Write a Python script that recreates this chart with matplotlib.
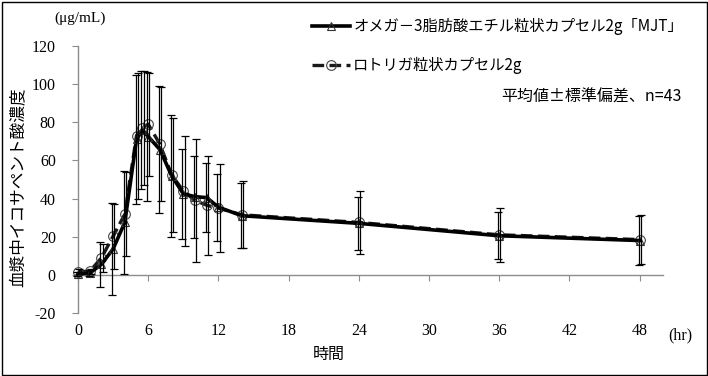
import matplotlib
matplotlib.use("Agg")
import matplotlib.pyplot as plt
from matplotlib.transforms import ScaledTranslation
from matplotlib.patches import Rectangle

plt.rcParams['font.family'] = ['Noto Sans CJK JP', 'DejaVu Sans']

# ---- data ----
time_hr = [0, 1, 2, 3, 4, 5, 5.5, 6, 7, 8, 9, 10, 11, 12, 14, 24, 36, 48]
mjt_mean = [0.5, 0.9, 5.5, 13.6, 27.5, 71, 76, 72.5, 65.7, 52, 42.5, 41, 40.5, 35.5, 31, 27, 20.5, 18]
mjt_sd = [1.0, 1.5, 11.8, 24, 27, 34, 31, 33.7, 33.3, 32, 23.5, 21.5, 18, 17.5, 17, 14, 12.3, 12.8]
rot_mean = [1.7, 1.8, 8.9, 20.2, 31.8, 73, 77, 79, 68.5, 52.5, 44, 39, 36.5, 35, 31.5, 27.5, 21, 18.5]
rot_sd = [1.2, 1.5, 7.3, 17, 22, 33, 30, 27, 29.8, 30, 29, 32, 26, 23, 17.5, 16.5, 14, 13]
xticks = [0, 6, 12, 18, 24, 30, 36, 42, 48]
yticks = [-20, 0, 20, 40, 60, 80, 100, 120]
label_mjt = "オメガ－3脂肪酸エチル粒状カプセル2g「MJT」"
label_rot = "ロトリガ粒状カプセル2g"

W, H = 708, 376
fig = plt.figure(figsize=(W / 100, H / 100), dpi=100)
ax = fig.add_axes([78 / W, (H - 313) / H, 585 / W, 267 / H])
ax.set_xlim(0, 50)
ax.set_ylim(-20, 120)

serif = ['Liberation Serif', 'DejaVu Serif']
gray = '#8c8c8c'

# lines + markers
l1, = ax.plot(time_hr, mjt_mean, color='black', lw=2.6, marker='^', ms=6,
              mfc='none', mec='#333333', mew=0.8, clip_on=False, zorder=4)
l2, = ax.plot(time_hr, rot_mean, color='#1a1a1a', lw=2.4, ls=(0, (3.5, 1.6)),
              marker='o', ms=7, mfc='none', mec='#444444', mew=0.8,
              clip_on=False, zorder=3)

# error bars
for mean, sd, dx in [(mjt_mean, mjt_sd, -1.0), (rot_mean, rot_sd, 1.2)]:
    eb = ax.errorbar(time_hr, mean, yerr=sd, fmt='none', ecolor='black',
                     elinewidth=0.9, capsize=2.6, capthick=0.9, zorder=5)
    tr = ax.transData + ScaledTranslation(dx / 100, 0, fig.dpi_scale_trans)
    for c in eb.lines[1]:
        c.set_transform(tr)
        c.set_clip_on(False)
    for c in eb.lines[2]:
        c.set_transform(tr)
        c.set_clip_on(False)

# axes styling
for s in ['top', 'right']:
    ax.spines[s].set_visible(False)
ax.spines['bottom'].set_position(('data', 0))
ax.spines['bottom'].set_color(gray)
ax.spines['left'].set_color(gray)
ax.spines['bottom'].set_linewidth(1.0)
ax.spines['left'].set_linewidth(1.0)
ax.set_xticks(xticks)
ax.set_xticklabels([str(v) for v in xticks], family=serif, fontsize=11.5)
ax.set_yticks(yticks)
ax.set_yticklabels([str(v) for v in yticks], family=serif, fontsize=11.5)
ax.tick_params(axis='x', direction='out', length=4, color=gray, pad=31)
ax.tick_params(axis='y', direction='out', length=4, color=gray, pad=12)

# texts
fig.text(680 / W, 1 - 335 / H, "(hr)", family=serif, fontsize=11.5,
         ha='center', va='center')
fig.text(80 / W, 1 - 18 / H, "(μg/mL)", family=serif, fontsize=11,
         ha='center', va='center')
fig.text(329 / W, 1 - 354 / H, "時間", fontsize=11.5, ha='center', va='center')
fig.text(19 / W, 1 - 187 / H, "血漿中イコサペント酸濃度", fontsize=12,
         rotation=90, ha='center', va='center')
fig.text(682 / W, 1 - 97 / H, "平均値±標準偏差、n=43", fontsize=11.5,
         ha='right', va='center')

fig.legend([l1, l2], [label_mjt, label_rot], loc='upper left',
           bbox_to_anchor=(312 / W, 1 - 18 / H), frameon=False,
           fontsize=11, handlelength=2.5, handletextpad=0.2,
           labelspacing=1.45, borderpad=0, borderaxespad=0)

fig.add_artist(Rectangle((1.5 / W, 1.5 / H), (W - 3) / W, (H - 3) / H,
                         transform=fig.transFigure, fill=False,
                         edgecolor='black', lw=1.0))

fig.savefig("out.png", dpi=100)
